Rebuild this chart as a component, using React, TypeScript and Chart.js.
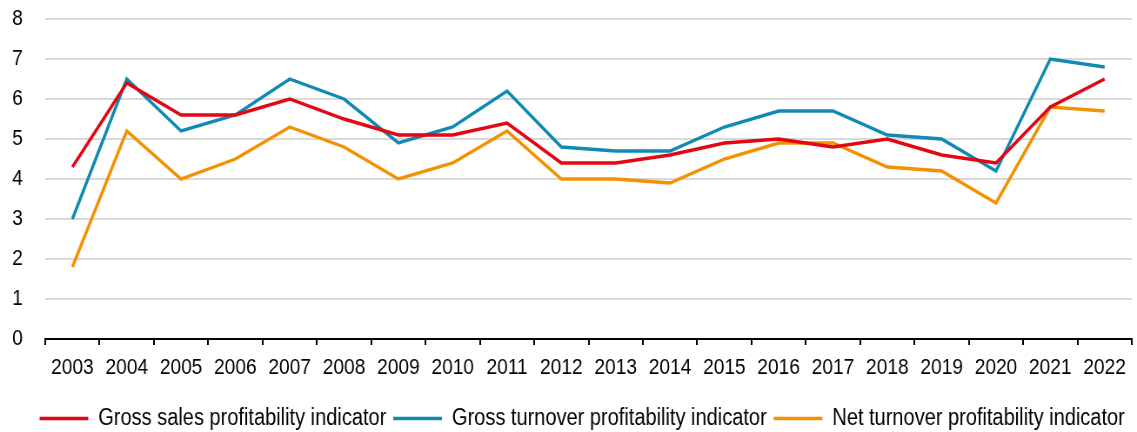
import React, { useEffect, useRef } from "react";
import { Chart, registerables } from "chart.js";

Chart.register(...registerables);

const years = ["2003","2004","2005","2006","2007","2008","2009","2010","2011","2012","2013","2014","2015","2016","2017","2018","2019","2020","2021","2022"];
const grossSales = [4.3, 6.4, 5.6, 5.6, 6.0, 5.5, 5.1, 5.1, 5.4, 4.4, 4.4, 4.6, 4.9, 5.0, 4.8, 5.0, 4.6, 4.4, 5.8, 6.5];
const grossTurnover = [3.0, 6.5, 5.2, 5.6, 6.5, 6.0, 4.9, 5.3, 6.2, 4.8, 4.7, 4.7, 5.3, 5.7, 5.7, 5.1, 5.0, 4.2, 7.0, 6.8];
const netTurnover = [1.8, 5.2, 4.0, 4.5, 5.3, 4.8, 4.0, 4.4, 5.2, 4.0, 4.0, 3.9, 4.5, 4.9, 4.9, 4.3, 4.2, 3.4, 5.8, 5.7];
const seriesNames = ["Gross sales profitability indicator", "Gross turnover profitability indicator", "Net turnover profitability indicator"];
const seriesColors = ["#E30613", "#0F8AB3", "#F39200"];

const FONT = "'Liberation Sans', Arial, sans-serif";
// Horizontal condensation to imitate the narrow typeface of the reference
const SQUEEZE = 0.87;
const OUT_W = 1137;
const OUT_H = 432;
const IN_W = Math.round(OUT_W / SQUEEZE);
const IN_H = 440;

export default function App() {
  const ref = useRef<HTMLCanvasElement | null>(null);
  useEffect(() => {
    if (!ref.current) return;
    const values = [grossSales, grossTurnover, netTurnover];
    const chart = new Chart(ref.current, {
      type: "line",
      data: {
        labels: years,
        datasets: values.map((v, i) => ({
          label: seriesNames[i],
          data: v,
          borderColor: seriesColors[i],
          backgroundColor: seriesColors[i],
          borderWidth: 3.4,
          pointRadius: 0,
          tension: 0,
          fill: false,
        })),
      },
      options: {
        animation: false,
        responsive: true,
        maintainAspectRatio: false,
        layout: { padding: { left: 14, right: 6, top: 19, bottom: 0 } },
        plugins: {
          tooltip: { enabled: false },
          legend: {
            position: "bottom",
            align: "end",
            labels: {
              font: { family: FONT, size: 23 },
              color: "#000",
              boxWidth: 56,
              boxHeight: 3.5,
              padding: 8,
              generateLabels: (c: any) =>
                c.data.datasets.map((d: any, i: number) => ({
                  text: d.label,
                  fillStyle: d.borderColor,
                  strokeStyle: d.borderColor,
                  lineWidth: 0,
                  hidden: false,
                  datasetIndex: i,
                  fontColor: "#000",
                })),
            },
          },
        },
        scales: {
          x: {
            offset: true,
            afterFit: (s: any) => {
              s.height = 60;
            },
            grid: {
              display: true,
              drawOnChartArea: false,
              drawTicks: true,
              tickLength: 6,
              color: "#000",
              lineWidth: 2,
              offset: true,
            },
            border: { display: true, color: "#000", width: 2 },
            ticks: {
              color: "#000",
              font: { family: FONT, size: 22 },
              padding: 10,
              maxRotation: 0,
              autoSkip: false,
            },
          },
          y: {
            min: 0,
            max: 8,
            afterFit: (s: any) => {
              s.width = 38;
            },
            grid: { color: "#D9D9D9", lineWidth: 2, drawTicks: false },
            border: { display: false },
            ticks: {
              stepSize: 1,
              color: "#000",
              font: { family: FONT, size: 22 },
              padding: 3,
              crossAlign: "far",
            },
          },
        },
      },
    });
    return () => chart.destroy();
  }, []);
  return (
    <div style={{ position: "fixed", left: 0, top: 0, width: OUT_W, height: OUT_H, overflow: "hidden", background: "#fff" }}>
      <div
        style={{
          position: "absolute",
          left: 0,
          top: 0,
          width: IN_W,
          height: IN_H,
          transform: `scaleX(${OUT_W / IN_W})`,
          transformOrigin: "0 0",
        }}
      >
        <canvas ref={ref} />
      </div>
    </div>
  );
}
